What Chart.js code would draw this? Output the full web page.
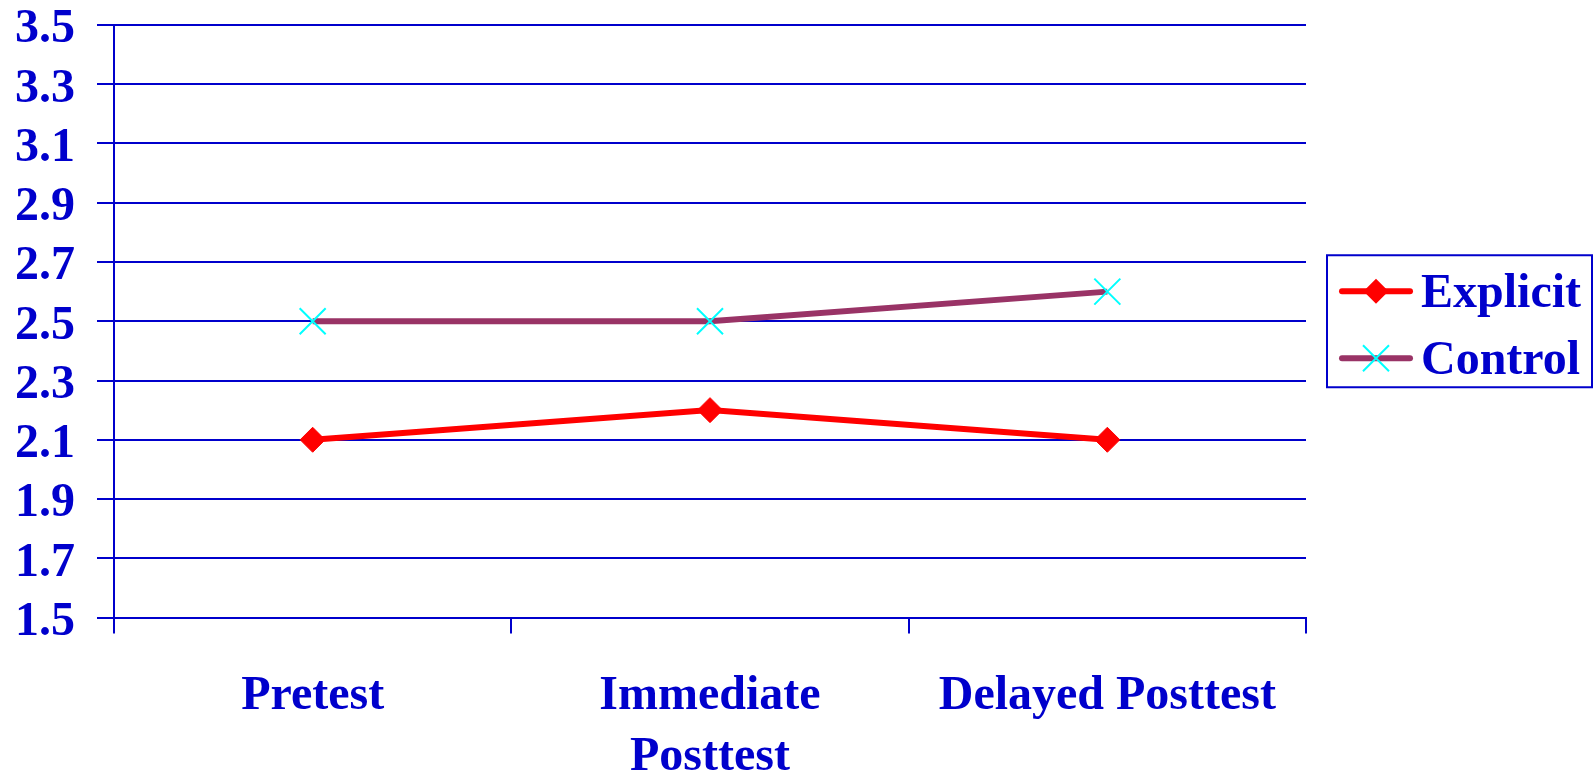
<!DOCTYPE html>
<html>
<head>
<meta charset="utf-8">
<title>Explicit vs Control</title>
<script src="https://cdn.jsdelivr.net/npm/chart.js@4/dist/chart.umd.min.js"></script>
<style>
  html, body { margin: 0; padding: 0; background: #ffffff; }
  #wrap { width: 1594px; height: 772px; position: relative; }
</style>
</head>
<body>
<div id="wrap"><canvas id="chart"></canvas></div>
<script>
// Test phases and mean scores per group
const categories = ['Pretest', ['Immediate', 'Posttest'], 'Delayed Posttest'];
const explicitScores = [2.1, 2.2, 2.1];
const controlScores = [2.5, 2.5, 2.6];
const yTicks = [1.5, 1.7, 1.9, 2.1, 2.3, 2.5, 2.7, 2.9, 3.1, 3.3, 3.5];

const BLUE = '#0000CC';
const FONT = '"Liberation Serif", "Times New Roman", serif';

// Boxed legend on the right: a short line with the series marker, then the name
const boxedLegend = {
  id: 'boxedLegend',
  afterDraw(chart) {
    const ctx = chart.ctx;
    const area = chart.chartArea;
    const left = area.right + 21;
    const w = 265, h = 132;
    const top = (area.top + area.bottom) / 2 - h / 2;
    ctx.save();
    ctx.strokeStyle = BLUE;
    ctx.lineWidth = 2;
    ctx.strokeRect(left, top, w, h);
    const rows = [top + 36, top + 103];
    chart.data.datasets.forEach((ds, i) => {
      const y = rows[i];
      const cx = left + 49;
      ctx.strokeStyle = ds.borderColor;
      ctx.lineWidth = 6;
      ctx.lineCap = 'round';
      ctx.beginPath();
      ctx.moveTo(left + 15, y);
      ctx.lineTo(left + 83, y);
      ctx.stroke();
      if (ds.pointStyle === 'rectRot') {
        const r = ds.pointRadius;
        ctx.fillStyle = ds.pointBackgroundColor;
        ctx.beginPath();
        ctx.moveTo(cx - r, y);
        ctx.lineTo(cx, y - r);
        ctx.lineTo(cx + r, y);
        ctx.lineTo(cx, y + r);
        ctx.closePath();
        ctx.fill();
      } else {
        const d = ds.pointRadius * Math.SQRT1_2;
        ctx.strokeStyle = ds.pointBorderColor;
        ctx.lineWidth = ds.pointBorderWidth;
        ctx.lineCap = 'butt';
        ctx.beginPath();
        ctx.moveTo(cx - d, y - d);
        ctx.lineTo(cx + d, y + d);
        ctx.moveTo(cx - d, y + d);
        ctx.lineTo(cx + d, y - d);
        ctx.stroke();
      }
      ctx.fillStyle = BLUE;
      ctx.font = 'bold 48px ' + FONT;
      ctx.textAlign = 'left';
      ctx.textBaseline = 'middle';
      ctx.fillText(ds.label, left + 94, y + 3);
    });
    ctx.restore();
  }
};

new Chart(document.getElementById('chart'), {
  type: 'line',
  data: {
    labels: categories,
    datasets: [
      {
        label: 'Explicit',
        data: explicitScores,
        borderColor: '#FF0000',
        borderWidth: 6,
        pointStyle: 'rectRot',
        pointRadius: 12.5,
        pointBackgroundColor: '#FF0000',
        pointBorderColor: '#FF0000',
        pointBorderWidth: 1,
        tension: 0
      },
      {
        label: 'Control',
        data: controlScores,
        borderColor: '#993366',
        borderWidth: 6,
        pointStyle: 'crossRot',
        pointRadius: 18.4,
        pointBackgroundColor: '#00FFFF',
        pointBorderColor: '#00FFFF',
        pointBorderWidth: 2,
        tension: 0
      }
    ]
  },
  options: {
    responsive: true,
    maintainAspectRatio: false,
    animation: false,
    events: [],
    layout: { padding: { top: 25, right: 288, bottom: 0, left: 0 } },
    plugins: {
      legend: { display: false },
      tooltip: { enabled: false }
    },
    scales: {
      x: {
        offset: true,
        grid: {
          offset: true,
          drawOnChartArea: false,
          drawTicks: true,
          tickLength: 16,
          color: BLUE,
          lineWidth: 2
        },
        border: { display: true, color: BLUE, width: 2 },
        ticks: {
          color: BLUE,
          padding: 33,
          maxRotation: 0,
          autoSkip: false,
          font: { family: FONT, size: 48, weight: 'bold', lineHeight: 1.27 }
        },
        afterFit(scale) { scale.height = 154.5; }
      },
      y: {
        min: 1.5,
        max: 3.5,
        afterBuildTicks(scale) { scale.ticks = yTicks.map(v => ({ value: v })); },
        grid: {
          color: BLUE,
          lineWidth: 2,
          tickLength: 17,
          drawTicks: true
        },
        border: { display: true, color: BLUE, width: 2 },
        ticks: {
          color: BLUE,
          padding: 22,
          labelOffset: 5,
          callback: v => Number(v).toFixed(1),
          font: { family: FONT, size: 48, weight: 'bold', lineHeight: 1 }
        },
        afterFit(scale) {
          scale.width = 114;
          scale.paddingTop = 0;
          scale.paddingBottom = 0;
        }
      }
    }
  },
  plugins: [boxedLegend]
});
</script>
</body>
</html>
